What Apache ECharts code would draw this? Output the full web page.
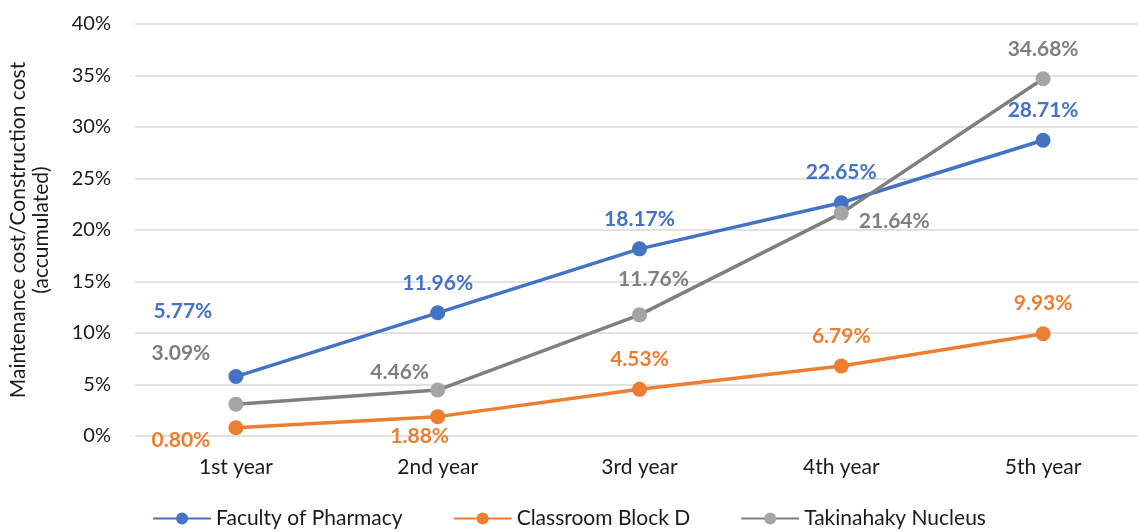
<!DOCTYPE html>
<html>
<head>
<meta charset="utf-8">
<script src="https://cdn.jsdelivr.net/npm/echarts@6/dist/echarts.min.js"></script>
<style>
  html, body { margin: 0; padding: 0; background: #fff; }
  #chart { width: 1138px; height: 532px; }
</style>
</head>
<body>
<div id="chart"></div>
<script>
// data
const years = ['1st year', '2nd year', '3rd year', '4th year', '5th year'];
const pharmacy = [5.77, 11.96, 18.17, 22.65, 28.71];
const classroomD = [0.80, 1.88, 4.53, 6.79, 9.93];
const takinahaky = [3.09, 4.46, 11.76, 21.64, 34.68];
const yTicks = [0, 5, 10, 15, 20, 25, 30, 35, 40];

// label placement per point [dx, dy]
const pharmacyOffsets = [[-53, -42], [0, -7], [0, -7], [0, -7], [0, -7]];
const classroomOffsets = [[-55, 35], [-18, 43], [0, -7], [0, -7], [0, -7]];
const takinahakyOffsets = [[-55, -28], [-38, 5], [14, -13], [53, 31], [0, -7]];

const font = 'Lato, "Open Sans", sans-serif';

function withLabels(values, offsets) {
  return values.map((v, i) => ({
    value: v,
    label: { offset: offsets[i] }
  }));
}

function makeSeries(name, values, offsets, color, lineColor, labelColor) {
  return {
    name,
    type: 'line',
    data: withLabels(values, offsets),
    symbol: 'circle',
    symbolSize: 15,
    itemStyle: { color },
    lineStyle: { color: lineColor, width: 3.5 },
    label: {
      show: true,
      position: 'top',
      color: labelColor,
      fontFamily: font,
      fontWeight: 'bold',
      fontSize: 21,
      formatter: p => p.value.toFixed(2) + '%'
    },
    emphasis: { disabled: true },
    animation: false
  };
}

const chart = echarts.init(document.getElementById('chart'));
chart.setOption({
  grid: { left: 135, right: -6, top: 24, bottom: 96, outerBoundsMode: 'none' },
  legend: {
    bottom: -2,
    left: 'center',
    itemWidth: 58,
    itemHeight: 15,
    itemGap: 50,
    textStyle: { fontFamily: font, fontSize: 21, color: '#1a1a1a' }
  },
  xAxis: {
    type: 'category',
    data: years,
    axisLine: { show: false },
    axisTick: { show: false },
    axisLabel: { fontFamily: font, fontSize: 21, color: '#1a1a1a', margin: 21 }
  },
  yAxis: {
    type: 'value',
    min: yTicks[0],
    max: yTicks[yTicks.length - 1],
    interval: 5,
    name: 'Maintenance cost/Construction cost\n(accumulated)',
    nameLocation: 'middle',
    nameGap: 82,
    nameTextStyle: { fontFamily: font, fontSize: 21, color: '#1a1a1a', lineHeight: 23 },
    axisLabel: {
      fontFamily: font, fontSize: 20, color: '#1a1a1a', margin: 24,
      formatter: v => v + '%'
    },
    splitLine: { lineStyle: { color: '#d9d9d9', width: 1.5 } }
  },
  series: [
    makeSeries('Faculty of Pharmacy', pharmacy, pharmacyOffsets, '#4472C4', '#4472C4', '#4472C4'),
    makeSeries('Classroom Block D', classroomD, classroomOffsets, '#ED7D31', '#ED7D31', '#ED7D31'),
    makeSeries('Takinahaky Nucleus', takinahaky, takinahakyOffsets, '#A5A5A5', '#7F7F7F', '#7F7F7F')
  ]
});
</script>
</body>
</html>
